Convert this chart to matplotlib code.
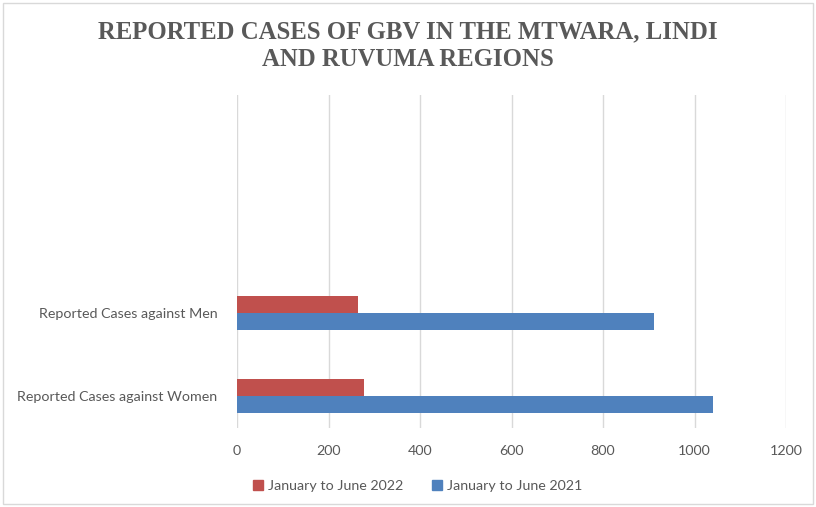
import matplotlib
matplotlib.use("Agg")
import matplotlib.pyplot as plt
from matplotlib.patches import Rectangle, Patch
import numpy as np

categories = ["Reported Cases against Women", "Reported Cases against Men"]
series_2022 = [278, 264]
series_2021 = [1040, 912]
series_names = ["January to June 2022", "January to June 2021"]
x_ticks = [0, 200, 400, 600, 800, 1000, 1200]

RED = "#C0504D"
BLUE = "#4F81BD"
TXT = "#595959"

W, H = 816, 507
fig = plt.figure(figsize=(W / 100, H / 100), dpi=100)
fig.patch.set_facecolor("white")
fig.patches.append(Rectangle((0.004, 0.006), 0.992, 0.988, transform=fig.transFigure,
                             fill=False, edgecolor="#D9D9D9", linewidth=1))

left, right, top, bottom = 237, 786, 95, 428
ax = fig.add_axes([left / W, 1 - bottom / H, (right - left) / W, (bottom - top) / H])

y = np.arange(len(categories))
h = 0.21
ax.barh(y + h / 2, series_2022, height=h, color=RED, label=series_names[0], zorder=3)
ax.barh(y - h / 2, series_2021, height=h, color=BLUE, label=series_names[1], zorder=3)

ax.set_xlim(0, 1200)
ax.set_ylim(-0.386, 3.627)
ax.set_xticks(x_ticks)
ax.set_xticklabels([str(v) for v in x_ticks])
ax.set_yticks(y)
ax.set_yticklabels(categories)
ax.tick_params(axis="both", length=0, labelsize=10.3, colors=TXT, labelfontfamily="Lato")
ax.tick_params(axis="x", pad=12)
ax.tick_params(axis="y", pad=14)
ax.grid(axis="x", color="#D9D9D9", linewidth=1, zorder=0)
for s in ax.spines.values():
    s.set_visible(False)

fig.text(0.5, 1 - 46 / H, "REPORTED CASES OF GBV IN THE MTWARA, LINDI\nAND RUVUMA REGIONS",
         ha="center", va="center", fontsize=17.8, fontweight="bold", color=TXT,
         family="Liberation Serif", linespacing=1.25)

handles = [Patch(color=RED), Patch(color=BLUE)]
fig.legend(handles, series_names, loc="center", bbox_to_anchor=(418 / W, 1 - 486 / H),
           ncol=2, frameon=False, prop={"family": "Lato", "size": 10.3},
           labelcolor=TXT, handlelength=0.7, handleheight=0.7, handletextpad=0.35,
           columnspacing=2.0)

fig.savefig("out.png", dpi=100)
